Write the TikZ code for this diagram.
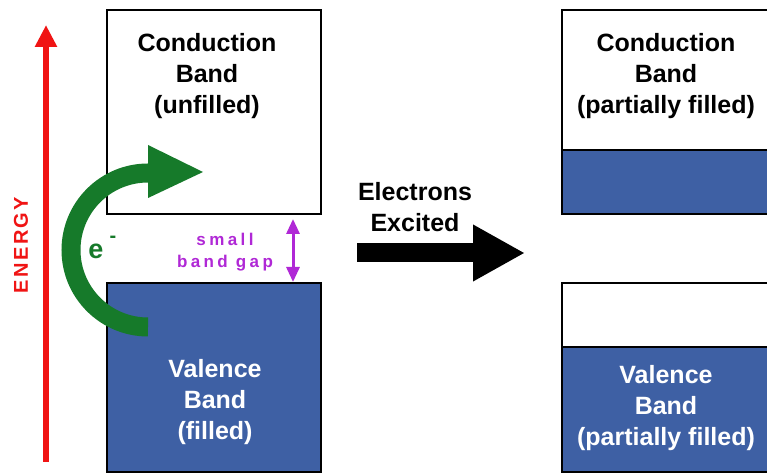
\documentclass[tikz,border=0pt]{standalone}
\usepackage{fontspec}
\setmainfont{Liberation Sans}
\newfontfamily\gapfont[LetterSpace=20]{Liberation Sans}
\newfontfamily\energyfont[LetterSpace=12]{Liberation Sans}
\usetikzlibrary{arrows.meta}
\definecolor{bandblue}{RGB}{62,96,164}
\definecolor{egreen}{RGB}{22,122,42}
\definecolor{gapmag}{RGB}{176,40,214}
\definecolor{energyred}{RGB}{240,20,20}
\tikzset{
  bandbox/.style={draw=black, line width=2.6pt},
  bandtext/.style={align=center, font=\fontsize{25}{31}\selectfont\bfseries, inner sep=0pt},
}
\begin{document}
\begin{tikzpicture}[x=1pt,y=1pt]
\useasboundingbox (0,0) rectangle (767,473);
\clip (0,0) rectangle (767,473);
\fill[white] (0,0) rectangle (767,473);
% left bands
\draw[bandbox, fill=white] (107,463) rectangle (321,259);
\draw[bandbox, fill=bandblue] (107,190) rectangle (321,1);
\node[bandtext] (tcL) at (207,397) {Conduction\\Band\\(unfilled)};
\node[bandtext, text=white] (tvL) at (215,71) {Valence\\Band\\(filled)};
% energy arrow
\coordinate (e0) at (46,11);
\coordinate (e1) at (46,448);
\draw[energyred, line width=6pt, -{Triangle[length=22pt,width=21pt]}] (e0) -- (e1);
\node[text=energyred, rotate=90, font=\energyfont\fontsize{20}{22}\selectfont\bfseries, inner sep=0pt] (energy) at (21,228) {ENERGY};
% green arrow
\coordinate (g0) at (148,146);
\draw[egreen, line width=19pt] (g0) arc[start angle=270, end angle=90, radius=77];
\fill[egreen] (148,328) -- (148,275) -- (203,301) -- cycle;
\node[text=egreen, font=\fontsize{27}{30}\selectfont\bfseries, inner sep=0pt] (elec) at (96,222) {e};
\node[text=egreen, font=\fontsize{20}{22}\selectfont\bfseries, inner sep=0pt] (minus) at (113,234) {-};
% band gap
\coordinate (gtop) at (293,254);
\coordinate (gbot) at (293,191);
\draw[gapmag, line width=3pt, {Triangle[length=15pt,width=13pt]}-{Triangle[length=15pt,width=13pt]}] (gtop) -- (gbot);
\node[text=gapmag, align=center, font=\gapfont\fontsize{17}{22}\selectfont\bfseries, inner sep=0pt] (gap) at (225,221) {small\\band gap};
% black arrow
\coordinate (b0) at (357,220);
\coordinate (b1) at (525,220);
\draw[black, line width=19pt, -{Triangle[length=52pt,width=53pt]}] (b0) -- (b1);
\node[bandtext] (exc) at (415,266) {Electrons\\Excited};
% right bands
\fill[white] (562,463) rectangle (770,323);
\fill[bandblue] (562,323) rectangle (770,259);
\draw[bandbox] (562,463) rectangle (770,259);
\draw[line width=2pt] (562,323) -- (770,323);
\node[bandtext] (tcR) at (666,397) {Conduction\\Band\\(partially filled)};
\fill[white] (562,190) rectangle (770,126);
\fill[bandblue] (562,126) rectangle (770,1);
\draw[bandbox] (562,190) rectangle (770,1);
\draw[line width=2pt] (562,126) -- (770,126);
\node[bandtext, text=white] (tvR) at (666,65) {Valence\\Band\\(partially filled)};
\end{tikzpicture}
\end{document}
